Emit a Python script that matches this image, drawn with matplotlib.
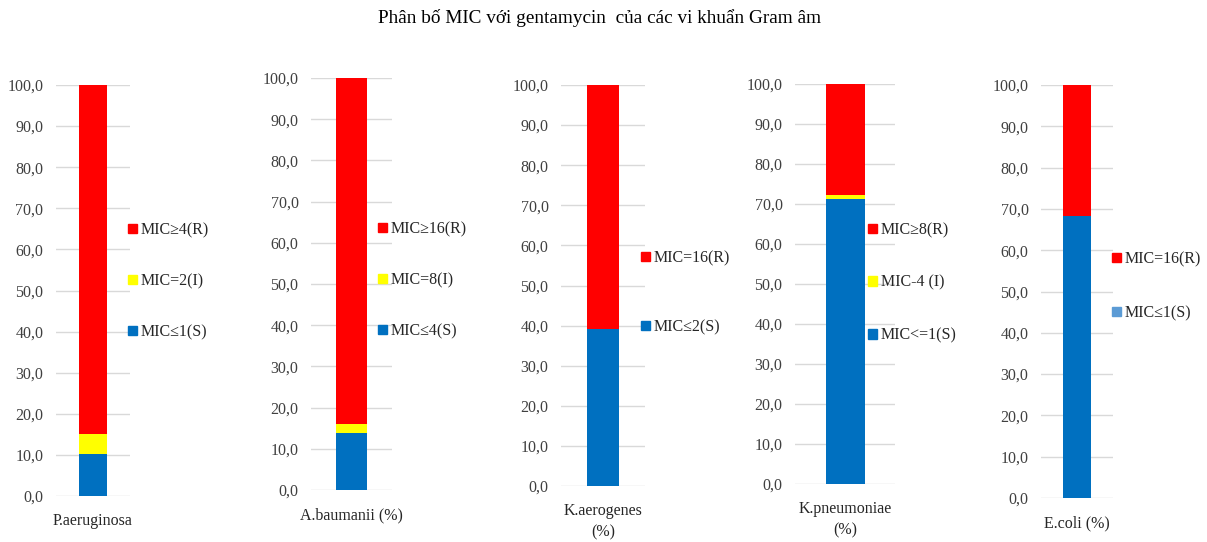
import matplotlib
matplotlib.use("Agg")
import matplotlib.pyplot as plt
from matplotlib.patches import Patch

plt.rcParams['font.family'] = ['Liberation Serif', 'DejaVu Serif']

title = "Phân bố MIC với gentamycin  của các vi khuẩn Gram âm"
species = ["P.aeruginosa", "A.baumanii (%)", "K.aerogenes\n(%)", "K.pneumoniae\n(%)", "E.coli (%)"]
susceptible = [10.2, 13.9, 39.2, 71.3, 68.3]
intermediate = [5.0, 2.0, None, 0.9, None]
resistant = [84.8, 84.1, 60.8, 27.8, 31.7]
label_S = ["MIC≤1(S)", "MIC≤4(S)", "MIC≤2(S)", "MIC<=1(S)", "MIC≤1(S)"]
label_I = ["MIC=2(I)", "MIC=8(I)", None, "MIC-4 (I)", None]
label_R = ["MIC≥4(R)", "MIC≥16(R)", "MIC=16(R)", "MIC≥8(R)", "MIC=16(R)"]
yticks = [0, 10, 20, 30, 40, 50, 60, 70, 80, 90, 100]

C_S = "#0070C0"
C_I = "#FFFF00"
C_R = "#FF0000"
legend_S_color = [C_S, C_S, C_S, C_S, "#5B9BD5"]

W, H = 1207, 542
fig = plt.figure(figsize=(W / 100, H / 100), dpi=100)

# axes boxes in pixels: left, right, top(100), bottom(0)
boxes = [(56, 130, 85, 496), (311, 392, 78, 490), (561, 645, 85, 486),
         (795, 895, 84, 484), (1041, 1113, 85, 498)]
# legend anchor (x px, y px of top) and row spacing
leg_pos = [(128, 222), (378, 221), (641, 250), (868, 222), (1112, 251)]
leg_space = [2.2, 2.2, 3.33, 2.3, 2.39]

fig.text(600 / W, 1 - 18 / H, title, ha='center', va='center', fontsize=13.9)

for i, (l, r, t, b) in enumerate(boxes):
    ax = fig.add_axes([l / W, 1 - b / H, (r - l) / W, (b - t) / H])
    s = susceptible[i]
    m = intermediate[i] if intermediate[i] is not None else 0
    rr = resistant[i]
    ax.bar([0], [s], width=0.39, color=C_S, zorder=3)
    handles = [Patch(color=C_R, label=label_R[i])]
    if intermediate[i] is not None:
        ax.bar([0], [m], bottom=[s], width=0.39, color=C_I, zorder=3)
        handles.append(Patch(color=C_I, label=label_I[i]))
    ax.bar([0], [rr], bottom=[s + m], width=0.39, color=C_R, zorder=3)
    handles.append(Patch(color=legend_S_color[i], label=label_S[i]))

    ax.set_xlim(-0.5, 0.5)
    ax.set_ylim(0, 100)
    ax.set_yticks(yticks)
    ax.set_yticklabels([f"{v:.1f}".replace('.', ',') for v in yticks], fontsize=11.5, color='#404040')
    ax.set_xticks([0])
    ax.set_xticklabels([species[i]], fontsize=11.5, color='#262626', linespacing=1.45)
    ax.tick_params(axis='both', length=0)
    ax.tick_params(axis='y', pad=9)
    ax.tick_params(axis='x', pad=12.5)
    ax.grid(axis='y', color='#D9D9D9', linewidth=1, zorder=0)
    for sp in ax.spines.values():
        sp.set_visible(False)
    ax.set_facecolor('none')

    lx, ly = leg_pos[i]
    ax.legend(handles=handles, loc='upper left',
              bbox_to_anchor=(lx / W, 1 - ly / H), bbox_transform=fig.transFigure,
              frameon=False, fontsize=11.5, handlelength=0.55, handleheight=0.55,
              handletextpad=0.25, labelspacing=leg_space[i], borderpad=0, borderaxespad=0,
              labelcolor='#262626')

fig.savefig("out.png", dpi=100)
